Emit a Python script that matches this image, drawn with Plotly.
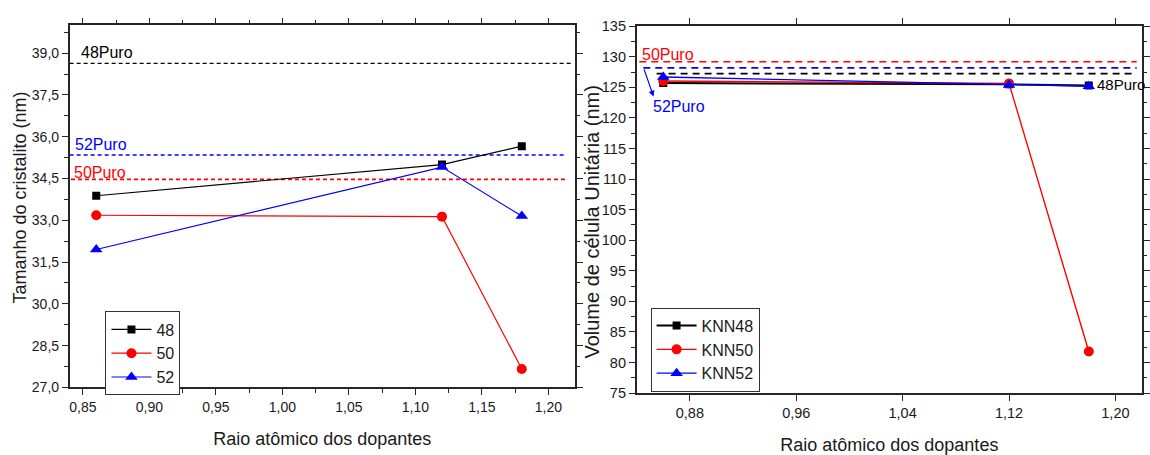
import plotly.graph_objects as go

# ---------------- data ----------------
dopant_radius = [0.86, 1.12, 1.18]

# left: crystallite size (nm)
cryst_48 = [33.88, 35.00, 35.66]
cryst_50 = [33.18, 33.13, 27.66]
cryst_52 = [31.95, 34.91, 33.15]
cryst_puro_48 = 38.63
cryst_puro_50 = 34.47
cryst_puro_52 = 35.34
cryst_puro_x_48 = [0.84, 1.219]
cryst_puro_x_50 = [0.841, 1.213]
cryst_puro_x_52 = [0.84, 1.213]

# right: unit cell volume
vol_48 = [125.7, 125.5, 125.3]
vol_50 = [126.05, 125.65, 81.8]
vol_52 = [126.7, 125.4, 125.2]
vol_puro_48 = 127.25
vol_puro_50 = 129.2
vol_puro_52 = 128.2
vol_puro_x_48 = [0.855, 1.216]
vol_puro_x_50 = [0.842, 1.216]
vol_puro_x_52 = [0.845, 1.216]

left_labels = ["48", "50", "52"]
right_labels = ["KNN48", "KNN50", "KNN52"]

BLACK = "#000000"
RED = "#FF0000"
BLUE = "#0000FF"
FONT = "Arial, Liberation Sans, sans-serif"

fig = go.Figure()

# ---- left panel puro lines ----
for xs, yv, col, w in [(cryst_puro_x_48, cryst_puro_48, BLACK, 1.2),
                       (cryst_puro_x_52, cryst_puro_52, BLUE, 1.5),
                       (cryst_puro_x_50, cryst_puro_50, RED, 1.8)]:
    fig.add_trace(go.Scatter(x=xs, y=[yv, yv], mode="lines", showlegend=False,
                             line=dict(color=col, width=w, dash="4px,3px"),
                             xaxis="x", yaxis="y", hoverinfo="skip"))

# ---- left panel series ----
for ys, col, sym, sz, name in [(cryst_48, BLACK, "square", 8, left_labels[0]),
                               (cryst_50, RED, "circle", 10, left_labels[1]),
                               (cryst_52, BLUE, "triangle-up", 11, left_labels[2])]:
    fig.add_trace(go.Scatter(x=dopant_radius, y=ys, mode="lines+markers", name=name,
                             line=dict(color=col, width=1.2),
                             marker=dict(symbol=sym, size=sz, color=col),
                             xaxis="x", yaxis="y", legend="legend"))

# ---- right panel puro lines ----
for xs, yv, col in [(vol_puro_x_50, vol_puro_50, RED),
                    (vol_puro_x_52, vol_puro_52, BLUE),
                    (vol_puro_x_48, vol_puro_48, BLACK)]:
    fig.add_trace(go.Scatter(x=xs, y=[yv, yv], mode="lines", showlegend=False,
                             line=dict(color=col, width=1.6, dash="7px,5px"),
                             xaxis="x2", yaxis="y2", hoverinfo="skip"))

# ---- right panel series ----
for ys, col, sym, sz, w, name in [(vol_48, BLACK, "square", 8, 2.0, right_labels[0]),
                                  (vol_50, RED, "circle", 10, 1.4, right_labels[1]),
                                  (vol_52, BLUE, "triangle-up", 11, 1.4, right_labels[2])]:
    fig.add_trace(go.Scatter(x=dopant_radius, y=ys, mode="lines+markers", name=name,
                             line=dict(color=col, width=w),
                             marker=dict(symbol=sym, size=sz, color=col),
                             xaxis="x2", yaxis="y2", legend="legend2"))

AX = "#262626"


def axis(**kw):
    d = dict(showline=True, linecolor=AX, linewidth=1.5, mirror="ticks",
             ticks="outside", ticklen=6, tickwidth=1.2, tickcolor=AX,
             showgrid=False, zeroline=False,
             tickfont=dict(family=FONT, size=14, color="#1a1a1a"))
    d.update(kw)
    return d


def minor(dt):
    return dict(ticks="outside", ticklen=3.5, tickwidth=1, tickcolor=AX,
                dtick=dt, showgrid=False)


def legend_box(x, y):
    return dict(x=x, y=y, xanchor="left", yanchor="top",
                bordercolor="#333333", borderwidth=1, bgcolor="white",
                font=dict(family=FONT, size=16, color="#1a1a1a"),
                tracegroupgap=0, itemwidth=40)


fig.update_layout(
    width=1150, height=455,
    margin=dict(l=0, r=0, t=0, b=0),
    paper_bgcolor="white", plot_bgcolor="white",
    separators=",.",
    font=dict(family=FONT, color="#1a1a1a"),
    xaxis=axis(domain=[70 / 1150, 578 / 1150], anchor="y",
               range=[0.84, 1.22], tick0=0.85, dtick=0.05, tickformat=".2f",
               minor=minor(0.025),
               title=dict(text="Raio atômico dos dopantes",
                          font=dict(family=FONT, size=18), standoff=18)),
    yaxis=axis(domain=[1 - 395 / 455, 1 - 18 / 455], anchor="x",
               range=[27, 40], tick0=27, dtick=1.5, tickformat=".1f",
               minor=minor(0.75)),
    xaxis2=axis(domain=[640 / 1150, 1148 / 1150], anchor="y2",
                range=[0.84, 1.22], tick0=0.88, dtick=0.08, tickformat=".2f",
                tickfont=dict(family=FONT, size=14.5, color="#1a1a1a"),
                title=dict(text="Raio atômico dos dopantes",
                           font=dict(family=FONT, size=18), standoff=21)),
    yaxis2=axis(domain=[1 - 401 / 455, 1 - 19 / 455], anchor="x2",
                range=[75, 135], tick0=75, dtick=5,
                minor=minor(2.5),
                tickfont=dict(family=FONT, size=14.5, color="#1a1a1a")),
    legend=legend_box(106 / 1150, 1 - 316 / 455),
    legend2=legend_box(654 / 1150, 1 - 312 / 455),
    showlegend=True,
)

ann = []
# y-axis titles
ann.append(dict(x=20 / 1150, y=1 - 197.5 / 455, xref="paper", yref="paper",
                text="Tamanho do cristalito (nm)", textangle=-90, showarrow=False,
                xanchor="center", yanchor="middle", font=dict(family=FONT, size=18, color="#1a1a1a")))
ann.append(dict(x=595 / 1150, y=1 - 222.5 / 455, xref="paper", yref="paper",
                text="Volume de célula Unitária (nm)", textangle=-90, showarrow=False,
                xanchor="center", yanchor="middle", font=dict(family=FONT, size=20, color="#1a1a1a")))
# left panel labels
ann.append(dict(x=0.8468, y=39.02, xref="x", yref="y", text="48Puro", showarrow=False,
                xanchor="left", yanchor="middle", font=dict(family=FONT, size=16, color=BLACK)))
ann.append(dict(x=0.8423, y=35.71, xref="x", yref="y", text="52Puro", showarrow=False,
                xanchor="left", yanchor="middle", font=dict(family=FONT, size=16, color=BLUE)))
ann.append(dict(x=0.8417, y=34.70, xref="x", yref="y", text="50Puro", showarrow=False,
                xanchor="left", yanchor="middle", font=dict(family=FONT, size=16, color=RED)))
# right panel labels
ann.append(dict(x=0.8422, y=130.3, xref="x2", yref="y2", text="50Puro", showarrow=False,
                xanchor="left", yanchor="middle", font=dict(family=FONT, size=16, color=RED)))
ann.append(dict(x=0.8505, y=121.8, xref="x2", yref="y2", text="52Puro", showarrow=False,
                xanchor="left", yanchor="middle", font=dict(family=FONT, size=16, color=BLUE)))
ann.append(dict(x=1.1845, y=125.4, xref="x2", yref="y2", text="48Puro", showarrow=False,
                xanchor="left", yanchor="middle", font=dict(family=FONT, size=15, color=BLACK)))
# arrow from blue puro line to its label
ann.append(dict(x=0.8527, y=123.5, xref="x2", yref="y2", text="",
                showarrow=True, ax=0.8452, ay=128.2, axref="x2", ayref="y2",
                arrowhead=2, arrowsize=1, arrowwidth=1.2, arrowcolor=BLUE, standoff=0))
fig.update_layout(annotations=ann)

fig.write_html("out.html")
